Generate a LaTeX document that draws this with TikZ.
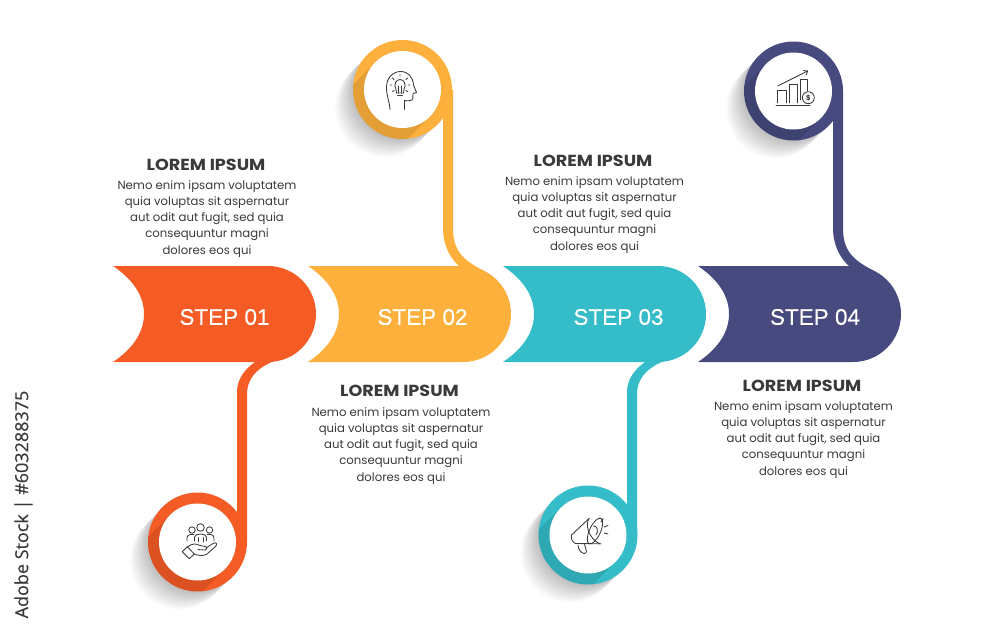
\documentclass[tikz,border=0pt]{standalone}
\usepackage{fontspec}
\setmainfont{Poppins}
\newfontfamily\stepfont[FakeBold=0.35]{Liberation Sans}
\newfontfamily\sidefont[FakeBold=0.4]{Open Sans}
\newfontfamily\headfont[FakeStretch=1.1]{Poppins}
\definecolor{cA}{HTML}{F55B25}
\definecolor{cB}{HTML}{FDB03C}
\definecolor{cC}{HTML}{34BCC8}
\definecolor{cD}{HTML}{464A7E}
\definecolor{txt}{HTML}{3A3A3A}
\tikzset{
  headtext/.style={font=\headfont\fontsize{16}{18}\selectfont\bfseries,text=txt,inner sep=0pt},
  bodytext/.style={font=\fontsize{11.7}{16.2}\selectfont,text=txt,align=center,inner sep=0pt},
  steptext/.style={font=\stepfont\fontsize{22.5}{26}\selectfont,text=white,inner sep=0pt},
  icon/.style={draw=txt,line width=0.85pt,line cap=round,line join=round},
}
% tab whose centre of the rounded end is at x=#1
\newcommand\tabshape[2]{%
  \fill[#2] (#1-155,266) -- (#1,266) arc[start angle=-90,end angle=90,radius=48]
    -- (#1-155,362) .. controls (#1-140,352) and (#1-124,336) .. (#1-124,314)
    .. controls (#1-124,292) and (#1-140,276) .. (#1-155,266) -- cycle;}
% leg going down at x=#1-31 .. #1-21 to a badge at y=#3
\newcommand\legdown[3]{%
  \fill[#2] (#1-31,#3) -- (#1-31,392) .. controls (#1-31,379) and (#1-23,369) .. (#1-13,362)
    -- (#1-13,350) -- (#1+24,350) -- (#1+24,355.6)
    .. controls (#1+8,359) and (#1-21,368) .. (#1-21,394) -- (#1-21,#3) -- cycle;}
% leg going up at x=#1-20 .. #1-10
\newcommand\legup[3]{%
  \fill[#2] (#1-20,#3) -- (#1-20,228) .. controls (#1-20,245) and (#1-13,258) .. (#1-4,266)
    -- (#1-4,278) -- (#1+22,278) -- (#1+22,271.3)
    .. controls (#1-1,260) and (#1-10,250) .. (#1-10,228) -- (#1-10,#3) -- cycle;}
% round badge with long shadow
\newcommand\badge[3]{%
  \begin{scope}[shift={(#1,#2)}]
    \foreach \k in {1,...,16}{\fill[black,opacity=0.014] (-1.15*\k,1.15*\k) circle[radius=49];}
    \fill[#3] (0,0) circle[radius=49.5];
    \begin{scope}
      \clip (0,0) circle[radius=49.5];
      \draw[black,opacity=0.1,line width=77pt,line cap=round] (0,0) -- (-40,40);
    \end{scope}
    \fill[white] (0,0) circle[radius=38.5];
  \end{scope}}
\begin{document}
\begin{tikzpicture}[x=1pt,y=-1pt]
\useasboundingbox (0,0) rectangle (1000,632);
\fill[white] (0,0) rectangle (1000,632);

% step 1
\badge{197.5}{542}{cA}
\legdown{268}{cA}{542}
\tabshape{268}{cA}
% step 2
\badge{402.5}{89.5}{cB}
\legup{463}{cB}{89.5}
\tabshape{463}{cB}
% step 3
\badge{588}{535}{cC}
\legdown{658}{cC}{535}
\tabshape{658}{cC}
% step 4
\badge{793.5}{91}{cD}
\legup{853}{cD}{91}
\tabshape{853}{cD}

\node[steptext] (s1) at (224.5,317) {STEP 01};
\node[steptext] (s2) at (422.5,317) {STEP 02};
\node[steptext] (s3) at (618.5,317) {STEP 03};
\node[steptext] (s4) at (815,317) {STEP 04};

\node[headtext] (h1) at (206,164.5) {LOREM IPSUM};
\node[bodytext] (b1) at (207,218.8) {Nemo enim ipsam voluptatem\\quia voluptas sit aspernatur\\aut odit aut fugit, sed quia\\consequuntur magni\\dolores eos qui};
\node[headtext] (h2) at (399.5,391) {LOREM IPSUM};
\node[bodytext] (b2) at (401,445.8) {Nemo enim ipsam voluptatem\\quia voluptas sit aspernatur\\aut odit aut fugit, sed quia\\consequuntur magni\\dolores eos qui};
\node[headtext] (h3) at (593,160.5) {LOREM IPSUM};
\node[bodytext] (b3) at (594.5,214.8) {Nemo enim ipsam voluptatem\\quia voluptas sit aspernatur\\aut odit aut fugit, sed quia\\consequuntur magni\\dolores eos qui};
\node[headtext] (h4) at (802,385.5) {LOREM IPSUM};
\node[bodytext] (b4) at (803.5,439.8) {Nemo enim ipsam voluptatem\\quia voluptas sit aspernatur\\aut odit aut fugit, sed quia\\consequuntur magni\\dolores eos qui};

\node[rotate=90,font=\sidefont\fontsize{18}{20}\selectfont,text=txt,inner sep=0pt] (side) at (23.5,504.5) {Adobe Stock | \#603288375};

% icon: people on a hand
\draw[icon] (200.5,527.5) circle[radius=3.8];
\draw[icon] (192,530) circle[radius=3.2];
\draw[icon] (209.5,530) circle[radius=3.2];
\draw[icon] (194.5,541) -- (194.5,537) .. controls (194.5,533) and (206.5,533) .. (206.5,537) -- (206.5,541);
\draw[icon] (187,541) -- (187,538) .. controls (187,534.5) and (191,534) .. (194,534.5);
\draw[icon] (214,541) -- (214,538) .. controls (214,534.5) and (210,534) .. (207,534.5);
\draw[icon] (198,537.5) -- (198,542) (203,537.5) -- (203,542);
\draw[icon] (182.3,551.7) -- (187.3,546.7) -- (194.3,554) -- (189.3,558.7) -- cycle;
\draw[icon] (187.5,547) .. controls (192,543) and (196,543.5) .. (200,545.5) -- (205,546.5)
  .. controls (208,547) and (207,550.5) .. (204,550) -- (198,549.5);
\draw[icon] (206,548) -- (213,543.5) .. controls (216,541.5) and (218,544) .. (215.5,546.5)
  -- (207,554) .. controls (203,556.5) and (198,555.5) .. (194,554);

% icon: head with bulb
\draw[icon] (390,109.5) .. controls (390,103) and (386.5,97) .. (386.5,87)
  .. controls (386.5,78) and (393,71.5) .. (400.5,71.5)
  .. controls (408,71.5) and (413,77) .. (413.5,85) -- (416.5,92.5) -- (413,93.5)
  -- (412.8,98.5) .. controls (412.5,101) and (408,101) .. (404.5,100.5) -- (404.5,109.5);
\draw[icon] (396,89.5) .. controls (393,84) and (396.5,79.5) .. (400,79.5)
  .. controls (403.5,79.5) and (407,84) .. (404,89.5) -- (403.5,93) -- (396.5,93) -- cycle;
\draw[icon] (397.5,95.5) -- (402.5,95.5);
\draw[icon] (398.5,93) -- (398.5,86) (401.5,93) -- (401.5,86);
\draw[icon] (400,74.5) -- (400,76) (392.5,78) -- (394,79.5) (407.5,78) -- (406,79.5)
  (390,85) -- (392,85) (410,85) -- (408,85) (392.5,91.5) -- (394,90.5) (407.5,91.5) -- (406,90.5);

% icon: megaphone
\draw[icon,rotate around={-25:(595,531)}] (595,531) ellipse[x radius=5.5,y radius=14];
\draw[icon] (589,518.5) .. controls (585,524) and (588,538) .. (600,544);
\draw[icon] (589,518.5) -- (571.5,535) .. controls (570.5,538) and (572.5,542.5) .. (575.5,543.5) -- (601,543.8);
\draw[icon] (578,545) .. controls (578,549) and (581,553) .. (584,553.5)
  .. controls (587,553.5) and (587,549.5) .. (585.5,547.5) -- (584.5,544.5);
\draw[icon] (593.5,526) .. controls (597,525) and (599,532) .. (596,535);
\draw[icon] (601,522) -- (603,518.5) (604,527) -- (608,525.5) (604,533) -- (608,534);

% icon: chart
\draw[icon] (776,105.5) -- (810,105.5);
\draw[icon] (777.7,103) -- (777.7,90) -- (786,90) -- (786,103);
\draw[icon] (789,103) -- (789,84) -- (797.3,84) -- (797.3,103);
\draw[icon] (800,100) -- (800,79) -- (807.7,79) -- (807.7,91);
\draw[icon] (777.7,86) -- (807.5,71);
\draw[icon] (803.5,70.5) -- (807.7,71) -- (806,75);
\draw[icon,fill=white] (808.3,97.7) circle[radius=6];
\node[font=\fontsize{7}{8}\selectfont\bfseries,text=txt,inner sep=0pt] (coin) at (808.3,97.7) {\$};
\end{tikzpicture}
\end{document}
